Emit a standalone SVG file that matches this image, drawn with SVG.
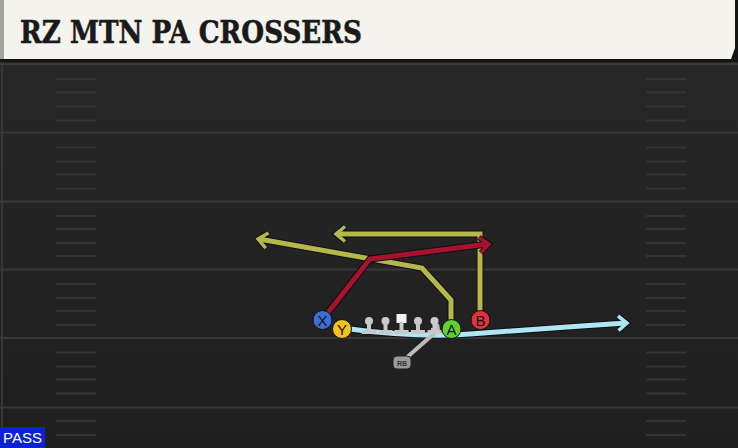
<svg xmlns="http://www.w3.org/2000/svg" width="738" height="448" viewBox="0 0 738 448">
<defs>
<linearGradient id="fieldg" x1="0" y1="0" x2="0" y2="1">
<stop offset="0" stop-color="#272727"/>
<stop offset="1" stop-color="#1f1f1f"/>
</linearGradient>
</defs>
<style>
.yl{stroke:#393939;stroke-width:2;fill:none}
.hm{stroke:#343434;stroke-width:2;fill:none}
.ol{fill:none;stroke:#0d0d1a;stroke-width:7;stroke-linejoin:miter;stroke-linecap:butt}
.rt{fill:none;stroke-width:5;stroke-linejoin:miter;stroke-linecap:butt}
.aol{fill:none;stroke:#0d0d1a;stroke-width:5.5;stroke-linejoin:miter;stroke-linecap:butt}
.ah{fill:none;stroke-width:3.5;stroke-linejoin:miter;stroke-linecap:butt}
.red{stroke:#a8122c}
.yel{stroke:#b6b84a}
.cy{stroke:#aee6f2}
.gr{stroke:#bdbdbd}
.pl{stroke:#111;stroke-width:1}
.lbl{font-family:"Liberation Sans",Arial,sans-serif;font-size:15px;fill:#111;text-anchor:middle}
.ln{fill:#c9c9c9}
</style>
<rect x="0" y="0" width="738" height="448" fill="#1c1c1c"/>
<rect x="0" y="62" width="738" height="386" fill="url(#fieldg)"/>
<line x1="2" y1="62" x2="2" y2="448" stroke="#363636" stroke-width="2"/>
<g id="field">
<line class="yl" x1="0" y1="64" x2="738" y2="64"/>
<line class="yl" x1="0" y1="132.5" x2="738" y2="132.5"/>
<line class="yl" x1="0" y1="201.5" x2="738" y2="201.5"/>
<line class="yl" x1="0" y1="269.5" x2="738" y2="269.5"/>
<line class="yl" x1="0" y1="338" x2="738" y2="338"/>
<line class="yl" x1="0" y1="407.5" x2="738" y2="407.5"/>
<path class="hm" d="M56,79H96M56,92.5H96M56,106.5H96M56,120.5H96M56,147.5H96M56,161.5H96M56,174.5H96M56,188.5H96M56,216H96M56,229H96M56,243H96M56,256H96M56,284H96M56,298H96M56,311H96M56,325H96M56,352.5H96M56,366.5H96M56,379.5H96M56,393.5H96M56,421H96M56,435H96"/>
<path class="hm" d="M646,79H686M646,92.5H686M646,106.5H686M646,120.5H686M646,147.5H686M646,161.5H686M646,174.5H686M646,188.5H686M646,216H686M646,229H686M646,243H686M646,256H686M646,284H686M646,298H686M646,311H686M646,325H686M646,352.5H686M646,366.5H686M646,379.5H686M646,393.5H686M646,421H686M646,435H686"/>
</g>
<g id="header">
<rect x="0" y="0" width="738" height="62" fill="#141414"/>
<rect x="0" y="0" width="4" height="59" fill="#a3a3a0"/>
<path d="M4,0H735V48L731,59H4Z" fill="#f5f3ee"/>
<text x="20" y="42.5" font-family="'DejaVu Serif',serif" font-weight="bold" font-size="32" textLength="342" lengthAdjust="spacingAndGlyphs" fill="#1a1a1a" stroke="#1a1a1a" stroke-width="0.6">RZ MTN PA CROSSERS</text>
</g>
<g id="connectors">
<path class="ol" d="M451,320V300L422,268L259,239"/>
<path class="aol" d="M268.4,233L258,239L265.7,248.2"/>
<path class="rt yel" d="M451,320V300L422,268L259,239"/>
<path class="ah yel" d="M268.4,233L258,239L265.7,248.2"/>
<path class="ol" d="M480,320V234H337"/>
<path class="aol" d="M345,226.5L336,234L345,241.5"/>
<path class="rt yel" d="M480,320V234H337"/>
<path class="ah yel" d="M345,226.5L336,234L345,241.5"/>
<path class="ol" d="M326,315L370,259L488,244"/>
<path class="aol" d="M478.9,237.5L489,244L480.9,252.8"/>
<path class="rt red" d="M326,315L370,259L488,244"/>
<path class="ah red" d="M478.9,237.5L489,244L480.9,252.8"/>
<path class="ol" d="M350,329Q400,336 452,335L470,334Q550,328 626,323"/>
<path class="aol" d="M618,316L627,323L618.5,330.5"/>
<path class="rt cy" d="M350,329Q400,336 452,335L470,334Q550,328 626,323"/>
<path class="ah cy" d="M618,316L627,323L618.5,330.5"/>
<path class="rt gr" d="M405,359L437,331M431,330L438,330L437,324" style="stroke-width:4"/>
</g>
<g id="ol-line">
<g id="lt"><circle class="ln" cx="369" cy="321" r="4"/><rect class="ln" x="367" y="321" width="4" height="10"/><rect class="ln" x="362" y="330" width="14" height="4"/></g>
<g id="lg"><circle class="ln" cx="385.5" cy="321" r="4"/><rect class="ln" x="383.5" y="321" width="4" height="10"/><rect class="ln" x="378.5" y="330" width="14" height="4"/></g>
<g id="c"><rect x="396.5" y="314" width="10" height="9" fill="#f2f2f2"/><rect class="ln" x="399.5" y="322" width="4" height="9"/><rect class="ln" x="394.5" y="330" width="14" height="4"/></g>
<g id="rg"><circle class="ln" cx="418" cy="321" r="4"/><rect class="ln" x="416" y="321" width="4" height="10"/><rect class="ln" x="411" y="330" width="14" height="4"/></g>
<g id="rt"><circle class="ln" cx="434.5" cy="321" r="4"/><rect class="ln" x="432.5" y="321" width="4" height="10"/><rect class="ln" x="427.5" y="330" width="14" height="4"/></g>
</g>
<g id="rb"><rect x="393" y="356" width="18" height="13" rx="4" fill="#9a9a9a" stroke="#222" stroke-width="1"/><text x="402" y="365.5" font-family="'Liberation Sans',Arial,sans-serif" font-size="7" font-weight="bold" fill="#333" text-anchor="middle">RB</text></g>
<g id="x"><circle class="pl" cx="322.5" cy="320" r="9.5" fill="#3b6fd6"/><text class="lbl" x="322.5" y="325.5">X</text></g>
<g id="y"><circle class="pl" cx="342" cy="329" r="9.5" fill="#f4c21c"/><text class="lbl" x="342" y="334.5">Y</text></g>
<g id="a"><circle class="pl" cx="451.5" cy="329" r="9.5" fill="#62d030"/><text class="lbl" x="451.5" y="334.5">A</text></g>
<g id="b"><circle class="pl" cx="480.5" cy="320" r="9.5" fill="#e2323c"/><text class="lbl" x="480.5" y="325.5">B</text></g>
<g id="pass"><rect x="0" y="427" width="45" height="21" fill="#0b22d6"/><text x="22.5" y="443" font-family="'Liberation Sans',Arial,sans-serif" font-size="15" fill="#ffffff" text-anchor="middle">PASS</text></g>
</svg>
